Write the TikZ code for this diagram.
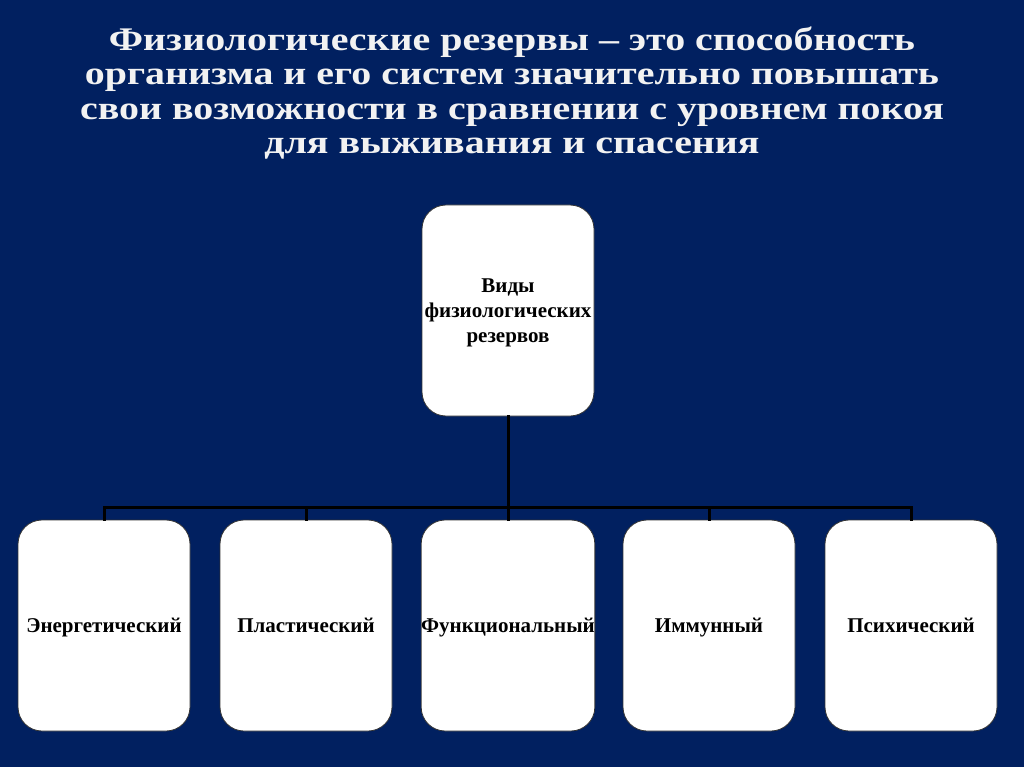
\documentclass[tikz,border=0pt]{standalone}
\usepackage{fontspec}
\setmainfont{Liberation Serif}
\newfontfamily\titlefont[FakeStretch=1.21]{Liberation Serif}
\definecolor{navy}{RGB}{1,32,96}
\begin{document}
\begin{tikzpicture}[x=1pt,y=-1pt,
  box/.style={draw=black!80,line width=0.8pt,fill=white,rounded corners=24pt,
    minimum width=172pt,minimum height=211pt,inner sep=0pt,align=center,text depth=0pt,
    font=\bfseries\fontsize{21}{25}\selectfont,text=black},
  conn/.style={draw=black,line width=3pt,line cap=rect},
  title/.style={align=center,text=white!95!black,font=\titlefont\bfseries\fontsize{33}{34.5}\selectfont}]
\useasboundingbox[fill=navy] (0,0) rectangle (1024,767);
\node[title,anchor=base] (t) at (512,154) {Физиологические резервы – это способность\\организма и его систем значительно повышать\\свои возможности в сравнении с уровнем покоя\\для выживания и спасения};
\node[box] (top) at (508,310.5) {Виды\\физиологических\\резервов};
\node[box] (b1) at (104,625.5) {Энергетический};
\node[box] (b2) at (306,625.5) {Пластический};
\node[box] (b3) at (508,625.5) {Функциональный};
\node[box] (b4) at (709,625.5) {Иммунный};
\node[box] (b5) at (911,625.5) {Психический};
\coordinate (bar) at (508,507);
\draw[conn] (top.south) -- (bar);
\draw[conn] (b1.north) -- (b1.north |- bar) -- (b5.north |- bar) -- (b5.north);
\draw[conn] (b2.north) -- (b2.north |- bar);
\draw[conn] (b3.north) -- (bar);
\draw[conn] (b4.north) -- (b4.north |- bar);
\end{tikzpicture}
\end{document}
